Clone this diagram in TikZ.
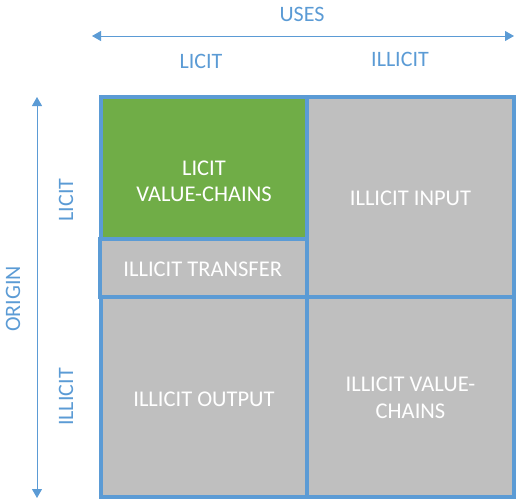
\documentclass[tikz,border=0pt]{standalone}
\usepackage{fontspec}
\setmainfont{Carlito}
\usepackage{xcolor}
\usetikzlibrary{arrows.meta,positioning}

\definecolor{axisblue}{HTML}{5B9BD5}
\definecolor{cellgreen}{HTML}{70AD47}
\definecolor{cellgray}{HTML}{BFBFBF}

\begin{document}
\begin{tikzpicture}[
    x=1pt, y=-1pt,
    cell/.style={rectangle, draw=axisblue, line width=4pt, fill=cellgray, inner sep=0pt},
    celltext/.style={text=white, align=center, inner sep=0pt, font=\fontsize{22.5}{26.5}\selectfont},
    axislabel/.style={text=axisblue, inner sep=0pt, font=\fontsize{22}{26.5}\selectfont},
    axisline/.style={draw=axisblue, line width=1pt, {Triangle[length=9pt,width=10pt]}-{Triangle[length=9pt,width=10pt]}}
]
    \useasboundingbox (0,0) rectangle (516,499);

    % cells of the matrix
    \node[cell, fill=cellgreen, minimum width=206pt, minimum height=142pt] (licit) at (204,168) {};
    \node[cell, minimum width=207.5pt, minimum height=58pt] (transfer) at (203.25,268) {};
    \node[cell, minimum width=207pt, minimum height=200pt] (input) at (410.5,197) {};
    \node[cell, minimum width=206pt, minimum height=200pt] (output) at (204,397) {};
    \node[cell, minimum width=207pt, minimum height=200pt] (chains) at (410.5,397) {};

    \node[celltext] (licittext) at ([yshift=-13.5pt]licit.center) {LICIT\\VALUE-CHAINS};
    \node[celltext] (transfertext) at ([xshift=-0.5pt, yshift=-1.5pt]transfer.center) {ILLICIT TRANSFER};
    \node[celltext] (inputtext) at ([yshift=-1pt]input.center) {ILLICIT INPUT};
    \node[celltext] (outputtext) at ([yshift=-2pt]output.center) {ILLICIT OUTPUT};
    \node[celltext] (chainstext) at ([yshift=-1pt]chains.center) {ILLICIT VALUE-\\CHAINS};

    % axes
    \coordinate (usesleft) at (92,36);
    \coordinate (usesright) at (514,36);
    \coordinate (origintop) at (37,97);
    \coordinate (originbottom) at (37,498);
    \draw[axisline] (usesleft) -- (usesright);
    \draw[axisline] (origintop) -- (originbottom);

    \node[axislabel] (uses) at (302,14) {USES};
    \node[axislabel] (useslicit) at (201,61) {LICIT};
    \node[axislabel] (usesillicit) at (400,59.5) {ILLICIT};
    \node[axislabel, rotate=90] (origin) at (13,299) {ORIGIN};
    \node[axislabel, rotate=90] (originlicit) at (66,200) {LICIT};
    \node[axislabel, rotate=90] (originillicit) at (66,397) {ILLICIT};
\end{tikzpicture}
\end{document}
